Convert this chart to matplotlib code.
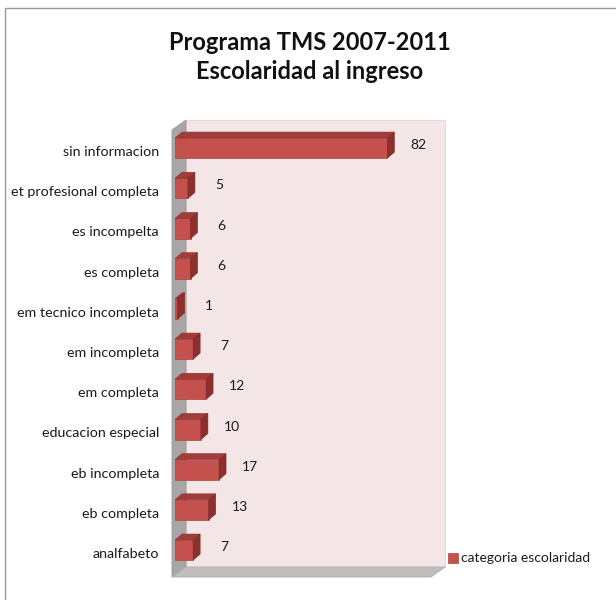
import matplotlib.pyplot as plt
from matplotlib.patches import Polygon, Rectangle
from matplotlib.transforms import ScaledTranslation

categorias = ["analfabeto", "eb completa", "eb incompleta", "educacion especial",
              "em completa", "em incompleta", "em tecnico incompleta", "es completa",
              "es incompelta", "et profesional completa", "sin informacion"]
valores = [7, 13, 17, 10, 12, 7, 1, 6, 6, 5, 82]
serie = "categoria escolaridad"
titulo = "Programa TMS 2007-2011\nEscolaridad al ingreso"

W, H = 616, 600
plt.rcParams['font.family'] = ['Lato', 'DejaVu Sans']

fig = plt.figure(figsize=(W / 100, H / 100), dpi=100)

# ejes en el plano frontal de las barras (pixeles)
ax_l, ax_b, ax_w, ax_h = 175, 25, 259, 447
ax = fig.add_axes([ax_l / W, ax_b / H, ax_w / W, ax_h / H])
x0, x1 = 0, 100
y0, y1 = -0.62, 10.5
ax.set_xlim(x0, x1)
ax.set_ylim(y0, y1)

# conversion pixel -> unidades de datos
ux = (x1 - x0) / ax_w
uy = (y1 - y0) / ax_h

# planos frontal y trasero de la caja 3D
fx, fy = -3 * ux, -2 * uy
bx, by = 11 * ux, 8 * uy

pared = Rectangle((x0 + bx, y0 + by), x1 - x0, y1 - y0, facecolor="#f4e6e6",
                  edgecolor="#e8d8d8", lw=0.8, clip_on=False, zorder=0)
ax.add_patch(pared)

lateral = Polygon([(fx, y0 + fy), (fx, y1 + fy), (bx, y1 + by), (bx, y0 + by)],
                  closed=True, facecolor="#a8a6a6", edgecolor="#9a9898", lw=0.6,
                  clip_on=False, zorder=1)
ax.add_patch(lateral)

piso = Polygon([(fx, y0 + fy), (x1 + fx, y0 + fy), (x1 + bx, y0 + by), (bx, y0 + by)],
               closed=True, facecolor="#c0bdbd", edgecolor="#b0adad", lw=0.6,
               clip_on=False, zorder=1)
ax.add_patch(piso)

# barras con profundidad
h = 0.5
dx, dy = 7 * ux, 6 * uy
pos = list(range(len(categorias)))
ax.barh(pos, valores, height=h, color="#c4514e", edgecolor="#a94542", lw=0.5, zorder=3)
for i, v in zip(pos, valores):
    top = Polygon([(0, i + h / 2), (v, i + h / 2), (v + dx, i + h / 2 + dy), (dx, i + h / 2 + dy)],
                  closed=True, facecolor="#a13c3a", edgecolor="#8e3331", lw=0.4,
                  clip_on=False, zorder=3)
    side = Polygon([(v, i - h / 2), (v, i + h / 2), (v + dx, i + h / 2 + dy), (v + dx, i - h / 2 + dy)],
                   closed=True, facecolor="#8c302e", edgecolor="#7a2927", lw=0.4,
                   clip_on=False, zorder=3)
    ax.add_patch(top)
    ax.add_patch(side)
    ax.text(v + 12, i + 0.07, str(v), ha="center", va="center", fontsize=10,
            color="#1a1a1a", zorder=4)

ax.set_yticks(pos)
ax.set_yticklabels(categorias, fontsize=10.3, color="#1a1a1a")
ax.tick_params(axis="y", length=0, pad=11.5)
bajar = ScaledTranslation(0, -0.03, fig.dpi_scale_trans)
for lab in ax.get_yticklabels():
    lab.set_transform(lab.get_transform() + bajar)
ax.set_xticks([])
for s in ax.spines.values():
    s.set_visible(False)
ax.patch.set_visible(False)

fig.text(310 / W, 1 - 57 / H, titulo, ha="center", va="center", fontsize=17,
         fontweight="bold", color="#111111", linespacing=1.35)

# leyenda
fig.patches.append(Rectangle((448 / W, 1 - 563 / H), 10 / W, 10 / H, transform=fig.transFigure,
                             facecolor="#c4514e", edgecolor="#a94542", lw=0.5))
fig.text(461 / W, 1 - 558 / H, serie, ha="left", va="center", fontsize=10, color="#1a1a1a")

# borde del area del grafico
fig.patches.append(Rectangle((5 / W, -0.05), 1.1, 1 - 8 / H + 0.05, transform=fig.transFigure,
                             facecolor="none", edgecolor="#9a9a9a", lw=1.0))

fig.savefig("out.png", dpi=100)
